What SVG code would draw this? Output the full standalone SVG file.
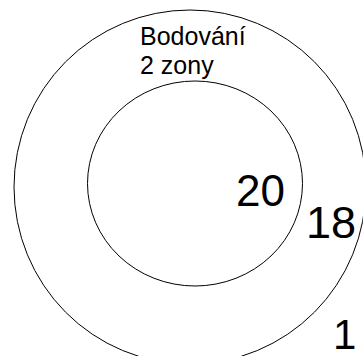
<svg xmlns="http://www.w3.org/2000/svg" width="363" height="356" viewBox="0 0 363 356">
<style>
.ring{fill:none;stroke:#000;stroke-width:1}
.t{font-family:"Liberation Sans",Arial,sans-serif;fill:#000}
</style>
<rect width="363" height="356" fill="#fff"/>
<g id="outer"><ellipse class="ring" cx="190" cy="187" rx="176" ry="177"/></g>
<g id="inner"><ellipse class="ring" cx="195" cy="183.5" rx="107.5" ry="102.5"/></g>
<g id="title"><text class="t" font-size="25" x="140" y="45">Bodování</text><text class="t" font-size="25" x="140" y="74">2 zony</text></g>
<g id="labels">
<text class="t" font-size="44" x="236" y="206">20</text>
<text class="t" font-size="45" x="306" y="238">18</text>
<text class="t" font-size="42" x="333" y="349">1</text>
</g>
</svg>
